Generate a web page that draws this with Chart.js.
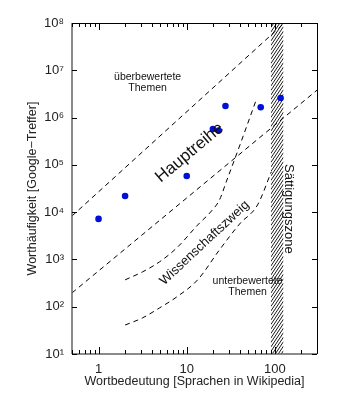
<!DOCTYPE html>
<html>
<head>
<meta charset="utf-8">
<script src="https://cdn.jsdelivr.net/npm/chart.js@4/dist/chart.umd.min.js"></script>
<style>
  html, body { margin: 0; padding: 0; background: #fff; }
  canvas { display: block; }
</style>
</head>
<body>
<canvas id="chart" width="339" height="400"></canvas>
<script>
// Data
const wordMeaning = [1, 2, 10, 19.8, 23, 27.5, 69, 116];            // languages in Wikipedia
const wordFrequency = [7200, 22000, 58000, 570000, 530000, 1760000, 1650000, 2600000]; // Google hits

// dashed guide lines
const upperX = [0.5, 128];
const upperY = [8300, 1e8];
const mainLowerX = [0.5, 300];
const mainLowerY = [196, 3.8e6];
const scienceX = [2, 3.15, 4.9, 7.7, 13.3, 19.1, 23.5, 28.3, 39.7, 62];
const scienceY = [370, 545, 885, 1750, 5350, 10600, 18100, 45700, 250000, 2500000];
const underX = [2, 3.15, 4.9, 7.7, 13.3, 23.5, 39.7, 63.5, 91];
const underY = [41, 58, 94, 161, 370, 1590, 5600, 14200, 71000];

// saturation zone (hatched band)
const saturationZone = [90, 125];

// ticks
const xTicks = [1, 10, 100];
const xTickLabels = ['1', '10', '100'];
const yTicks = [10, 100, 1e3, 1e4, 1e5, 1e6, 1e7, 1e8];
const yTickLabels = ['10¹', '10²', '10³', '10⁴', '10⁵', '10⁶', '10⁷', '10⁸'];

const FONT = "'Liberation Sans', Arial, sans-serif";
const TEXT = '#222';

function toPoints(xs, ys) {
    return xs.map((x, i) => ({ x: x, y: ys[i] }));
}

function guide(xs, ys, smooth) {
    return {
        data: toPoints(xs, ys),
        showLine: true,
        borderColor: '#000',
        borderWidth: 1,
        borderDash: [5, 4],
        pointRadius: 0,
        fill: false,
        cubicInterpolationMode: smooth ? 'monotone' : 'default',
        tension: 0
    };
}

// hatched band behind the data
const hatchPlugin = {
    id: 'hatch',
    beforeDatasetsDraw(chart) {
        const { ctx, chartArea: a, scales: { x } } = chart;
        const x0 = x.getPixelForValue(saturationZone[0]);
        const x1 = x.getPixelForValue(saturationZone[1]);
        const rise = (x1 - x0) * 1.5;
        ctx.save();
        ctx.beginPath();
        ctx.rect(x0, a.top, x1 - x0, a.bottom - a.top);
        ctx.clip();
        ctx.strokeStyle = '#000';
        ctx.lineWidth = 0.9;
        ctx.beginPath();
        for (let k = a.top - rise; k < a.bottom + rise; k += 4.5) {
            ctx.moveTo(x0, k + rise);
            ctx.lineTo(x1, k);
        }
        ctx.stroke();
        ctx.restore();
    }
};

// frame with inward ticks on all four sides
const framePlugin = {
    id: 'frame',
    afterDraw(chart) {
        const { ctx, chartArea: a, scales: { x, y } } = chart;
        ctx.save();
        ctx.strokeStyle = '#000';
        ctx.lineWidth = 1;
        ctx.beginPath();
        ctx.moveTo(a.left, a.top + 0.5); ctx.lineTo(a.right, a.top + 0.5);
        ctx.moveTo(a.right + 0.5, a.top); ctx.lineTo(a.right + 0.5, a.bottom);
        ctx.stroke();
        ctx.strokeStyle = '#666';
        ctx.lineWidth = 1.5;
        ctx.beginPath();
        ctx.moveTo(a.left, a.top); ctx.lineTo(a.left, a.bottom);
        ctx.moveTo(a.left, a.bottom); ctx.lineTo(a.right, a.bottom);
        ctx.stroke();

        ctx.strokeStyle = '#000';
        ctx.lineWidth = 1;
        ctx.beginPath();
        for (let d = 0.1; d <= 1000; d *= 10) {
            for (let m = 1; m <= 9; m++) {
                const v = d * m;
                if (v < x.min || v > x.max) continue;
                const px = Math.round(x.getPixelForValue(v)) + 0.5;
                const len = m === 1 ? 7 : 4;
                ctx.moveTo(px, a.bottom); ctx.lineTo(px, a.bottom - len);
                ctx.moveTo(px, a.top); ctx.lineTo(px, a.top + len);
            }
        }
        yTicks.forEach(v => {
            const py = Math.round(y.getPixelForValue(v)) + 0.5;
            ctx.moveTo(a.left, py); ctx.lineTo(a.left + 5, py);
            ctx.moveTo(a.right, py); ctx.lineTo(a.right - 5, py);
        });
        ctx.stroke();
        ctx.restore();
    }
};

// region labels
const labelPlugin = {
    id: 'regionLabels',
    afterDatasetsDraw(chart) {
        const { ctx, scales: { x, y } } = chart;
        ctx.save();
        ctx.fillStyle = '#111';
        ctx.textAlign = 'center';
        ctx.textBaseline = 'middle';

        function put(text, vx, vy, size, angle) {
            ctx.save();
            ctx.translate(x.getPixelForValue(vx), y.getPixelForValue(vy));
            ctx.rotate(angle * Math.PI / 180);
            ctx.font = size + 'px ' + FONT;
            const lines = text.split('\n');
            lines.forEach((l, i) => {
                ctx.fillText(l, 0, (i - (lines.length - 1) / 2) * size * 1.05);
            });
            ctx.restore();
        }

        put('überbewertete\nThemen', 3.6, 5.4e6, 10.5, 0);
        put('Hauptreihe', 10.8, 1.8e5, 17, -40);
        put('Wissenschaftszweig', 15.9, 2230, 13, -43);
        put('unterbewertete\nThemen', 49, 260, 10.5, 0);
        put('Sättigungszone', 143, 11700, 13, 90);
        ctx.restore();
    }
};

const ctx = document.getElementById('chart').getContext('2d');
new Chart(ctx, {
    type: 'scatter',
    data: {
        datasets: [
            {
                data: toPoints(wordMeaning, wordFrequency),
                backgroundColor: '#0010d8',
                borderWidth: 0,
                pointRadius: 3.3,
                pointHoverRadius: 3.3,
                showLine: false
            },
            guide(upperX, upperY, false),
            guide(mainLowerX, mainLowerY, false),
            guide(scienceX, scienceY, true),
            guide(underX, underY, true)
        ]
    },
    options: {
        responsive: false,
        animation: false,
        layout: { padding: { top: 23, right: 22, left: 0, bottom: 0 } },
        plugins: {
            legend: { display: false },
            tooltip: { enabled: false }
        },
        scales: {
            x: {
                type: 'logarithmic',
                min: 0.5,
                max: 300,
                afterBuildTicks: s => { s.ticks = xTicks.map(v => ({ value: v })); },
                afterFit: s => { s.height = 46; },
                grid: { display: false, drawTicks: false },
                border: { display: false },
                ticks: {
                    autoSkip: false,
                    maxRotation: 0,
                    padding: 8,
                    color: TEXT,
                    font: { family: FONT, size: 13 },
                    callback: v => xTickLabels[xTicks.indexOf(v)]
                },
                title: {
                    display: true,
                    text: 'Wortbedeutung [Sprachen in Wikipedia]',
                    color: TEXT,
                    font: { family: FONT, size: 12.5 },
                    padding: { top: 0, bottom: 10.5 }
                }
            },
            y: {
                type: 'logarithmic',
                min: 10,
                max: 1e8,
                afterBuildTicks: s => { s.ticks = yTicks.map(v => ({ value: v })); },
                afterFit: s => { s.width = 72; },
                grid: { display: false, drawTicks: false },
                border: { display: false },
                ticks: {
                    autoSkip: false,
                    padding: 8,
                    color: TEXT,
                    font: { family: FONT, size: 13 },
                    callback: v => yTickLabels[Math.round(Math.log10(v)) - 1]
                },
                title: {
                    display: true,
                    text: 'Worthäufigkeit [Google−Treffer]',
                    color: TEXT,
                    font: { family: FONT, size: 12.5 },
                    padding: { top: 25.5, bottom: 0 }
                }
            }
        }
    },
    plugins: [hatchPlugin, framePlugin, labelPlugin]
});
</script>
</body>
</html>
